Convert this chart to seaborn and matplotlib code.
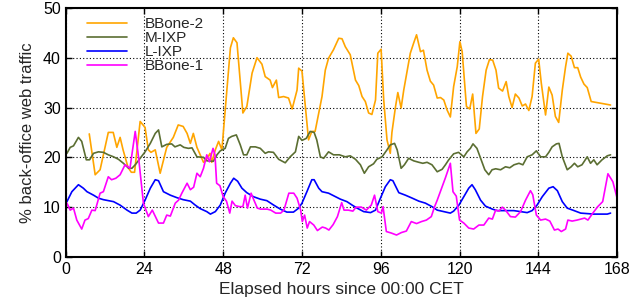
import numpy as np
import pandas as pd
import matplotlib
matplotlib.use("Agg")
import matplotlib.pyplot as plt
import seaborn as sns

# ==========================================
# DATA
# ==========================================
series_names = ["BBone-2", "M-IXP", "L-IXP", "BBone-1"]
series_colors = ["#FFA500", "#5B6E32", "#0000FF", "#FF00FF"]

bbone2_hours = [7.2, 9, 10.5, 13, 14.5, 15.6, 16.6, 17.5, 19, 20, 21, 22.7, 24.2, 25.2, 26, 27.3, 28.8,
                30.8, 32.8, 34.3, 35.8, 37, 38, 38.9, 40, 42, 43, 44, 44.5, 45.6, 46.6, 47.6, 50.2, 51.1,
                52.2, 54, 55.2, 56.8, 58.3, 59.8, 60.8, 62.3, 63, 64.2, 64.9, 66.4, 67.9, 69, 70.5, 71, 72,
                74, 75, 76, 78.1, 79.1, 80.1, 81.6, 83.2, 84.2, 85.2, 86.7, 88.3, 89.3, 90.3, 91.3, 92.3,
                93.3, 94.4, 95.1, 96.1, 96.9, 97.9, 98.9, 99.4, 100.5, 101.2, 102.2, 103, 104, 105, 106,
                106.9, 108.1, 109, 110.1, 111.1, 112.1, 113.2, 114.2, 115.2, 116.2, 117.2, 118.2, 119.3,
                120.1, 120.8, 122.1, 123.1, 124, 125, 126, 127, 128.1, 129.1, 130.1, 131.1, 131.9, 133.1,
                134.2, 135, 136, 137, 138.1, 139.1, 140.1, 141.1, 142.1, 143.1, 144.1, 144.9, 146.2, 147.2,
                148.2, 149.2, 150.2, 151.3, 152.3, 153, 154, 155, 156, 156.9, 157.9, 158.9, 160.1, 166]
bbone2_values = [24.7, 16.5, 17.5, 25, 25, 22, 24, 21.5, 18, 17, 17, 27.2, 26, 21.5, 21, 21.5, 16.8,
                 22, 24, 26.5, 26.2, 24.8, 22.8, 24.8, 22, 19, 19.7, 20.8, 19, 21.5, 23.2, 21.5, 42, 44,
                 43, 28.9, 30.2, 36.9, 40, 38.7, 36.2, 35.5, 34, 35.5, 32, 32.2, 31.9, 29.7, 33.5, 37.9, 37.3,
                 23.5, 25.2, 25.2, 32.2, 37.5, 39.9, 41.6, 43.9, 43.8, 42.2, 40.6, 35.5, 34.4, 32.2, 31.2, 28.9,
                 28.6, 31.5, 40.9, 41.7, 31.5, 23.5, 20.8, 25, 30.2, 33, 29.9, 33.5, 37.2, 40.9, 42.9,
                 44.6, 41.2, 41.5, 37.5, 35.3, 34.5, 31.9, 32, 31.5, 29.5, 28.1, 34.2, 38.2,
                 43.2, 41.2, 30.2, 29.7, 32.7, 24.8, 25.7, 32.2, 37.5, 39.6, 39.5, 37.5, 33.9, 33.3,
                 35.2, 32.2, 30, 32.7, 31.9, 30.3, 30.7, 29.4, 32.2, 38.9, 39.7, 34.9, 28.5, 34.1,
                 32.5, 28.2, 27, 33.5, 38.2, 40.9, 40.3, 38, 38, 36.1, 34.7, 34, 31.2, 30.5]

mixp_hours = [0.4, 1.4, 2.4, 3.9, 4.9, 6.3, 7.3, 8.5, 10, 11.5, 13, 14.6, 16.1, 17.6, 19.2, 20.2, 21.2,
              22.7, 24.2, 25.8, 27.3, 28.3, 29.3, 30.8, 32.3, 33.3, 34.9, 36, 37.4, 38.5, 40, 42, 43, 45,
              46.1, 47.1, 48.6, 49.6, 50.6, 52, 53.2, 54.2, 55.2, 56.3, 57.8, 59.3, 60.8, 61.8, 63.3, 64.9,
              66.9, 68.4, 70, 71, 72, 73.3, 74.5, 75.7, 76.5, 77.6, 78.6, 80.1, 81.6, 83.4, 85.2, 86.7,
              88.3, 89.8, 91, 92.3, 93.8, 94.8, 96.4, 97.9, 98.9, 100.2, 101, 102.2, 103.2, 104.5, 106,
              107.6, 108.8, 110.1, 111.6, 113.2, 114.7, 115.7, 116.7, 118.2, 119.7, 121.3, 122.3, 123.3,
              124.1, 125.3, 126.4, 127.7, 128.9, 129.9, 131, 132.5, 134, 135.3, 136.6, 138.1, 139.3,
              140.6, 142.1, 143.4, 144.7, 146.2, 147.2, 148.2, 149.5, 150.3, 151.3, 152.8, 154, 155, 156,
              157.3, 158.9, 159.9, 160.9, 161.9, 163.4, 165, 166]
mixp_values = [20.8, 22, 22.3, 24, 23.2, 19.5, 19.5, 20.8, 21.1, 21, 20.5, 20.1, 19.6, 18.8, 17.8, 17.8, 18.5,
               19.8, 21.1, 22.8, 24.8, 25.5, 22.1, 22.6, 22.7, 22.1, 22.5, 22, 21.8, 21.9, 20.1, 20, 19.3, 19.2,
               20.5, 21.3, 21.8, 23.8, 24.2, 24.5, 22.5, 20.5, 20.5, 22.1, 22.1, 21.8, 20.8, 21.1, 21, 19.6,
               18.9, 20.1, 21.1, 24.2, 23.4, 23.8, 25.2, 25, 23.5, 20.1, 19.8, 21.1, 20.5, 20.5, 20.1, 20.3,
               19.6, 18.5, 16.8, 18.1, 18.7, 19.6, 20.1, 21.5, 22.5, 22.8, 21.5, 17.8, 18.5, 19.8, 19.3,
               19, 18.8, 19, 18.5, 17.1, 17.6, 18.5, 19.5, 20.7, 21, 20.1, 21.1, 21.8,
               22.7, 21.8, 19.8, 17.5, 16.5, 17.5, 17.7, 17.5, 18.1, 17.9, 18.5, 18.8, 18.5,
               20.1, 20.5, 21.3, 20.1, 20.1, 21, 22.1, 22.7, 22.8, 20.1, 17.5, 18.1, 18.8, 18.1,
               18.5, 20.1, 18.8, 19.5, 18.5, 19.5, 20.3, 20.5]

lixp_hours = [0.4, 1.9, 3.9, 5.4, 6.5, 8.5, 10, 11.5, 14.6, 16.6, 18.7, 20.2, 21.5, 22.7, 24.2, 25.8, 27.3,
              28.3, 29.8, 31.9, 33.9, 35.8, 38, 39.5, 41, 43, 44.1, 45.6, 47.1, 48.6, 50.2, 51.2, 52.4, 53.7,
              55.2, 57.2, 59.3, 61.3, 63.4, 65.4, 67.4, 69.4, 71, 72, 73.5, 75, 75.7, 77.1, 78.1, 80.1, 82.2,
              83.7, 85.7, 87.3, 88.8, 90.8, 92.9, 94.4, 95.9, 97.4, 98.9, 99.7, 101.5, 103.5, 105.6, 107.6,
              109.6, 111.6, 113.2, 115.2, 117.2, 118.2, 119.8, 121.3, 122.8, 123.8, 124.8, 126.4, 127.9,
              130, 131.5, 134, 136.5, 138.6, 140.6, 142.1, 143.6, 145.2, 147.2, 148.5, 149.8, 151.3, 152.8,
              154.9, 156.9, 160.9, 165, 166]
lixp_values = [11.1, 13.1, 14.5, 13.8, 13.1, 12.4, 11.8, 11.5, 11.1, 10.4, 9.4, 8.8, 8.8, 9.4, 11.4, 13.8, 15.5,
               15.3, 13.1, 12.4, 11.9, 11.5, 11.2, 10.4, 9.7, 9.1, 8.6, 9.1, 10.4, 12.8, 14.8, 15.8, 15.2, 13.8,
               12.9, 12.1, 11.6, 11.3, 10.4, 9.6, 9, 9, 9.8, 10.8, 13.1, 15.5, 15.5, 13.8, 13.1, 12.8, 12.1,
               11.6, 11.1, 10.4, 9.8, 9.1, 8.9, 9.4, 11.8, 14.1, 15.5, 15.3, 12.9, 12.4, 11.8, 11.2,
               10.8, 10.1, 9.4, 9.1, 8.8, 9.2, 10.4, 12.1, 13.8, 14.5, 13.5, 11.4, 10.2,
               9.6, 9.3, 9.3, 9.3, 9.1, 8.9, 9.3, 10.4, 12.1, 13.8, 14.1, 13.3, 11.1, 9.8,
               9.3, 8.8, 8.6, 8.6, 8.8]

bbone1_hours = [0.4, 1.4, 2.4, 3.4, 4.9, 5.9, 6.9, 8, 9, 10.5, 11.5, 13, 14, 15.3, 16.6, 18.1, 19.6, 21.2,
                22.2, 23.7, 25.2, 26.4, 28.3, 29.8, 30.8, 31.9, 33.4, 34.4, 35.4, 37, 38, 39, 40, 41, 42, 43,
                43.8, 44.9, 45.5, 46, 47, 48, 49, 50, 50.7, 51.7, 53, 54, 54.7, 55.4, 56.5, 57.3, 58.4, 59.4,
                61.4, 62.5, 64, 65.5, 66.5, 68, 69.5, 70.5, 71.6, 72.1, 72.8, 73.6, 74.3, 75.6, 76.7, 78.2,
                79.2, 80.2, 81.5, 82.8, 84.1, 84.8, 86.1, 87.5, 88.5, 90.1, 91.6, 93.1, 94.1, 95.1, 96.2,
                96.7, 97.7, 99.2, 100.8, 102.3, 103.8, 105.3, 106.9, 108.4, 109.9, 111.4, 112.4, 113.2,
                114.7, 115.7, 117.2, 118, 119, 120, 121.3, 122.8, 124.3, 125.9, 127.4, 128.9, 130, 131,
                132, 133, 134, 135.5, 137, 138.6, 140.1, 141.6, 142.3, 143.4, 144.7, 146.2, 147.5, 148.9,
                150, 151, 152.3, 153, 154.3, 155.8, 157, 158.1, 159.1, 160.6, 162.1, 163.6, 165.2, 166.7, 168]
bbone1_values = [10.8, 9.4, 9.8, 7.4, 5.6, 7.4, 7.7, 9.4, 9.3, 12.8, 13.1, 16.1, 15.5, 15.8, 16.5, 18.5, 17.8, 25.2,
                 20.1, 10.8, 8.1, 9.4, 6.8, 6.8, 8.4, 8.2, 10.8, 11.4, 12.8, 14.8, 13.5, 14, 16.8, 16.1, 17.8, 20.5,
                 19.1, 21.8, 20.5, 14.8, 14.3, 12.1, 11.2, 8.8, 11.2, 10.3, 10.1, 10.1, 12.4, 9.8, 12.8, 11.5, 9.8, 9.6,
                 9.6, 9.4, 8.8, 8.8, 9.4, 12.8, 12.8, 11.8, 9.4, 7.1, 8.4, 5.8, 7.1, 6.4, 5.3, 6,
                 5.8, 5.4, 6.5, 8.1, 10.9, 9.4, 9.4, 9.2, 10, 10, 9.4, 10.4, 12.4, 9.1, 8.8,
                 10.1, 5.1, 4.8, 4.4, 4.9, 5.2, 7.1, 6.7, 7.1, 7.4, 8.1, 10.1, 11.4,
                 14.1, 15.9, 18.8, 13.1, 12.2, 7.4, 6.8, 5.8, 5.6, 6.4, 6.4, 7.8, 7.6, 9.4,
                 9.2, 10, 9.4, 8.1, 8, 9.1, 11.4, 13.3, 12.5, 8.4, 7.4, 7.6, 7.2, 5.4,
                 5.6, 5.1, 5.6, 7.4, 7.2, 7.4, 7.6, 7.8, 7.4, 8.8, 10.1, 11.1, 16.7, 15.1, 11.8]

x_ticks = [0, 24, 48, 72, 96, 120, 144, 168]
y_ticks = [0, 10, 20, 30, 40, 50]

# build one long table for seaborn
frames = []
for name, hrs, vals in [("BBone-2", bbone2_hours, bbone2_values),
                        ("M-IXP", mixp_hours, mixp_values),
                        ("L-IXP", lixp_hours, lixp_values),
                        ("BBone-1", bbone1_hours, bbone1_values)]:
    frames.append(pd.DataFrame({"hour": hrs, "share": vals, "series": name}))
df = pd.concat(frames, ignore_index=True)

# ==========================================
# PLOT
# ==========================================
sns.set_style("ticks")
plt.rcParams["font.family"] = ["Liberation Sans", "DejaVu Sans"]

fig = plt.figure(figsize=(6.31, 3.03), dpi=100)
ax = fig.add_axes([0.104, 0.152, 0.874, 0.822])

sns.lineplot(data=df, x="hour", y="share", hue="series", hue_order=series_names,
             palette=dict(zip(series_names, series_colors)), estimator=None, sort=True,
             linewidth=1.2, ax=ax)

ax.set_xlim(0, 168)
ax.set_ylim(0, 50)
ax.set_xticks(x_ticks)
ax.set_yticks(y_ticks)
ax.grid(True, color="black", linestyle=(0, (1, 2)), linewidth=0.8)
ax.set_axisbelow(True)
ax.tick_params(direction="in", top=True, right=True, length=4, width=1, labelsize=11.5, colors="black")
for sp in ax.spines.values():
    sp.set_linewidth(1.5)
    sp.set_color("black")

ax.set_xlabel("Elapsed hours since 00:00 CET", fontsize=12.5, labelpad=4)
ax.set_ylabel("% back-office web traffic", fontsize=12, labelpad=6)

leg = ax.legend(loc="upper left", bbox_to_anchor=(0.033, 0.975), frameon=False, fontsize=11,
                handlelength=2.6, labelspacing=0.0, borderaxespad=0.0, borderpad=0.2,
                handletextpad=1.2)

fig.savefig("out.png", dpi=100)
